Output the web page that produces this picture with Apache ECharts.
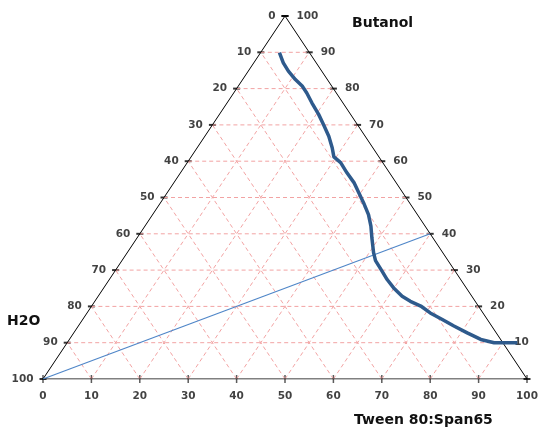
<!DOCTYPE html>
<html>
<head>
<meta charset="utf-8">
<script src="https://cdn.jsdelivr.net/npm/echarts@6/dist/echarts.min.js"></script>
<style>
  html, body { margin: 0; padding: 0; background: #fff; }
  #chart { width: 539px; height: 429px; }
</style>
</head>
<body>
<div id="chart"></div>
<script>
// tick labels on the three sides
const steps = [0, 10, 20, 30, 40, 50, 60, 70, 80, 90, 100];
const bottomLabels = [0, 10, 20, 30, 40, 50, 60, 70, 80, 90, 100]; // Tween 80:Span65
const leftLabels = [100, 90, 80, 70, 60, 50, 40, 30, 20, 10, 0];   // H2O, bottom to top
const rightLabels = [0, 10, 20, 30, 40, 50, 60, 70, 80, 90, 100];  // Butanol, bottom to top

// boundary curve (percent)
const curveTween = [3.9, 6.1, 8.3, 10.9, 13.2, 15.1, 17.5, 20.5, 22.9, 25.6, 27.9, 29.5,
  31.7, 34.4, 37.2, 39.6, 42.0, 44.6, 46.7, 48.5, 50.9, 52.4, 55.2, 57.4, 59.9, 62.8,
  65.2, 68.0, 70.9, 74.3, 77.6, 81.3, 85.0, 88.2, 93.0];
const curveButanol = [89.9, 87.1, 84.8, 82.5, 80.7, 78.8, 76.1, 72.9, 70.1, 66.9, 63.7, 61.2,
  59.6, 56.8, 54.1, 51.3, 48.5, 45.3, 42.1, 38.9, 34.8, 32.6, 29.7, 27.4, 25.1, 22.8,
  21.4, 20.1, 18.2, 16.4, 14.6, 12.7, 10.9, 10.0, 10.0];

// dilution line
const lineTween = [0, 60];
const lineButanol = [0, 40];

// ternary (tween, butanol) -> plot x/y
function toXY(t, b) {
  return [t + b / 2, b];
}

const chart = echarts.init(document.getElementById('chart'));

// dashed pink grid, one small line series per segment
const gridSeries = [];
function addGridLine(a, b) {
  gridSeries.push({
    type: 'line',
    silent: true,
    symbol: 'none',
    lineStyle: { color: '#F2A3A3', width: 1, type: [4, 3] },
    data: [a, b]
  });
}
steps.slice(1, -1).forEach(k => {
  addGridLine(toXY(0, k), toXY(100 - k, k));       // const butanol
  addGridLine(toXY(k, 0), toXY(k, 100 - k));       // const tween
  addGridLine(toXY(100 - k, 0), toXY(0, 100 - k)); // const water
});

const labelFont = {
  fontFamily: 'DejaVu Sans',
  fontWeight: 'bold',
  fontSize: 10.5,
  color: '#111'
};

const option = {
  animation: false,
  grid: { left: 43, right: 12, top: 16, bottom: 50 },
  xAxis: { type: 'value', min: 0, max: 100, show: false },
  yAxis: { type: 'value', min: 0, max: 100, show: false },
  series: gridSeries.concat([
    {
      type: 'line',
      silent: true,
      symbol: 'none',
      lineStyle: { color: '#000', width: 1 },
      data: [toXY(0, 0), toXY(100, 0), toXY(0, 100), toXY(0, 0)]
    },
    {
      type: 'line',
      silent: true,
      symbol: 'none',
      lineStyle: { color: '#4F86C8', width: 1.2 },
      data: lineTween.map((t, i) => toXY(t, lineButanol[i]))
    },
    {
      type: 'line',
      silent: true,
      symbol: 'none',
      clip: false,
      lineStyle: { color: '#2E5A8C', width: 3.5 },
      data: curveTween.map((t, i) => toXY(t, curveButanol[i]))
    },
    {
      // bottom ticks + labels
      type: 'scatter',
      silent: true,
      symbol: 'rect',
      symbolSize: [1.5, 8],
      itemStyle: { color: '#333' },
      label: Object.assign({
        show: true, position: 'bottom', distance: 8,
        formatter: p => bottomLabels[p.dataIndex]
      }, labelFont),
      data: steps.map(k => toXY(k, 0))
    },
    {
      // left ticks + labels
      type: 'scatter',
      silent: true,
      symbol: 'rect',
      symbolSize: [7, 2],
      itemStyle: { color: '#000' },
      label: Object.assign({
        show: true, position: 'left', distance: 6,
        formatter: p => leftLabels[p.dataIndex]
      }, labelFont),
      data: steps.map(k => toXY(0, k))
    },
    {
      // right ticks + labels
      type: 'scatter',
      silent: true,
      symbol: 'rect',
      symbolSize: [7, 2],
      itemStyle: { color: '#000' },
      label: Object.assign({
        show: true, position: 'right', distance: 8,
        formatter: p => rightLabels[p.dataIndex]
      }, labelFont),
      data: steps.map(k => toXY(100 - k, k))
    }
  ]),
  graphic: [
    {
      type: 'text', left: 352, top: 16,
      style: { text: 'Butanol', font: 'bold 14px "DejaVu Sans"', fill: '#111' }
    },
    {
      type: 'text', left: 7, top: 314,
      style: { text: 'H2O', font: 'bold 14px "DejaVu Sans"', fill: '#111' }
    },
    {
      type: 'text', left: 354, top: 413,
      style: { text: 'Tween 80:Span65', font: 'bold 14px "DejaVu Sans"', fill: '#111' }
    }
  ]
};

chart.setOption(option);
</script>
</body>
</html>
